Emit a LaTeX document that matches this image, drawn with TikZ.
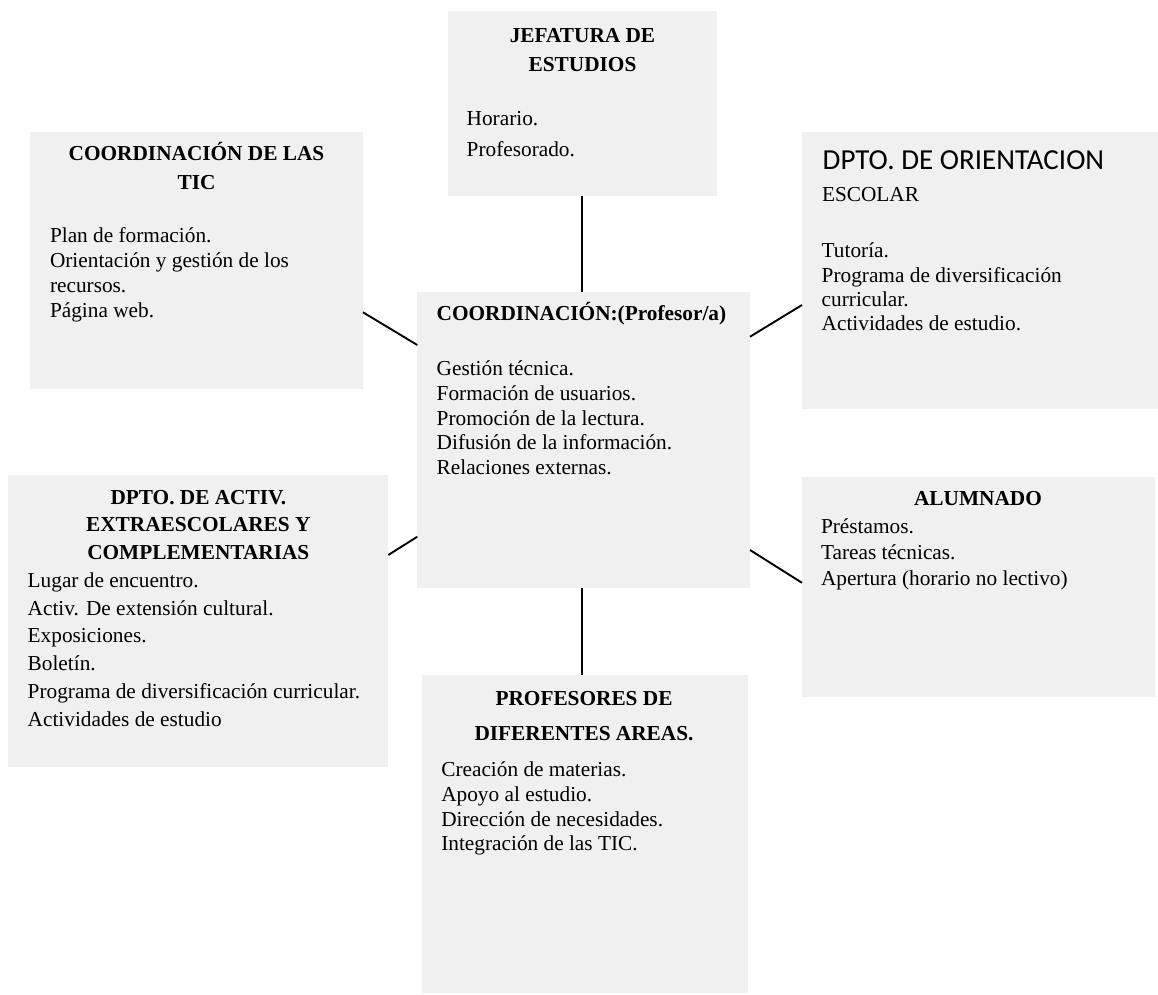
\documentclass[tikz,border=0pt]{standalone}
\usepackage{fontspec}
\setmainfont{Liberation Serif}
\newfontfamily\carlitofont{Carlito}
\definecolor{boxgray}{HTML}{F0F0F0}
\tikzset{
  box/.style={fill=boxgray, draw=none, inner sep=0pt, outer sep=0pt, anchor=north west},
  txt/.style={inner sep=0pt, outer sep=0pt, font=\fontsize{21.3pt}{24pt}\selectfont},
  ttl/.style={inner sep=0pt, outer sep=0pt, font=\fontsize{21.3pt}{24pt}\selectfont\bfseries},
  sans/.style={inner sep=0pt, outer sep=0pt, font=\fontsize{29pt}{32pt}\carlitofont},
  conn/.style={line width=1.9pt, black},
}
\newcommand\Lines[7]{\foreach \l [count=\i from 0] in {#7} {\node[#2, anchor=#3] (#1\i) at ({#4},{#5+\i*#6}) {\l};}}
\begin{document}
\begin{tikzpicture}[x=1pt, y=-1pt]
\useasboundingbox (0,0) rectangle (1158,994);
% boxes
\node[box, minimum width=269pt, minimum height=184.7pt] (jef) at (448,11) {};
\node[box, minimum width=333pt, minimum height=257pt] (tic) at (30,132) {};
\node[box, minimum width=356pt, minimum height=277pt] (ori) at (802,132) {};
\node[box, minimum width=332.7pt, minimum height=296pt] (coord) at (417.3,292.3) {};
\node[box, minimum width=380pt, minimum height=292pt] (act) at (8.3,475) {};
\node[box, minimum width=353pt, minimum height=220pt] (alu) at (802,477.3) {};
\node[box, minimum width=326pt, minimum height=318pt] (prof) at (422,675) {};
% connectors
\draw[conn] (jef.south -| 582.3,0) -- (coord.north -| 582.3,0);
\draw[conn] ([yshift=-180.3pt]tic.north east) -- ([yshift=-52.7pt]coord.north west);
\draw[conn] ([yshift=-173pt]ori.north west) -- ([yshift=-44.4pt]coord.north east);
\draw[conn] ([yshift=-80pt]act.north east) -- ([yshift=-244.4pt]coord.north west);
\draw[conn] ([yshift=-105.5pt]alu.north west) -- ([yshift=-257.7pt]coord.north east);
\draw[conn] (coord.south -| 582.3,0) -- (prof.north -| 582.3,0);
% texts
\Lines{jt}{ttl}{base}{582.5}{42.7}{28.3}{JEFATURA DE,ESTUDIOS}
\Lines{jb}{txt}{base west}{466.7}{125}{31.7}{Horario.,Profesorado.}
\Lines{tt}{ttl}{base}{196.5}{160.7}{28.3}{COORDINACIÓN DE LAS,TIC}
\Lines{tb}{txt}{base west}{50}{242.7}{24.9}{Plan de formación.,Orientación y gestión de los,recursos.,Página web.}
\node[sans, anchor=base west] (ot) at (822.7,169) {DPTO. DE ORIENTACION};
\node[txt, anchor=base west] (os) at (822,201.7) {ESCOLAR};
\Lines{ob}{txt}{base west}{821.7}{257.7}{24.3}{Tutoría.,Programa de diversificación,curricular.,Actividades de estudio.}
\node[ttl, anchor=base west] (ct) at (436.7,320.7) {COORDINACIÓN:(Profesor/a)};
\Lines{cb}{txt}{base west}{436.7}{375.7}{24.7}{Gestión técnica.,Formación de usuarios.,Promoción de la lectura.,Difusión de la información.,Relaciones externas.}
\Lines{at}{ttl}{base}{198.3}{504}{27.8}{DPTO. DE ACTIV.,EXTRAESCOLARES Y,COMPLEMENTARIAS}
\Lines{ab}{txt}{base west}{27.7}{587.3}{27.8}{Lugar de encuentro.,Activ. De extensión cultural.,Exposiciones.,Boletín.,Programa de diversificación curricular.,Actividades de estudio}
\node[ttl, anchor=base] (lt) at (978,505.7) {ALUMNADO};
\Lines{lb}{txt}{base west}{821}{533.3}{26.2}{Préstamos.,Tareas técnicas.,Apertura (horario no lectivo)}
\Lines{pt}{ttl}{base}{584}{705}{35}{PROFESORES DE,DIFERENTES AREAS.}
\Lines{pb}{txt}{base west}{441.3}{776.7}{24.7}{Creación de materias.,Apoyo al estudio.,Dirección de necesidades.,Integración de las TIC.}
\end{tikzpicture}
\end{document}
